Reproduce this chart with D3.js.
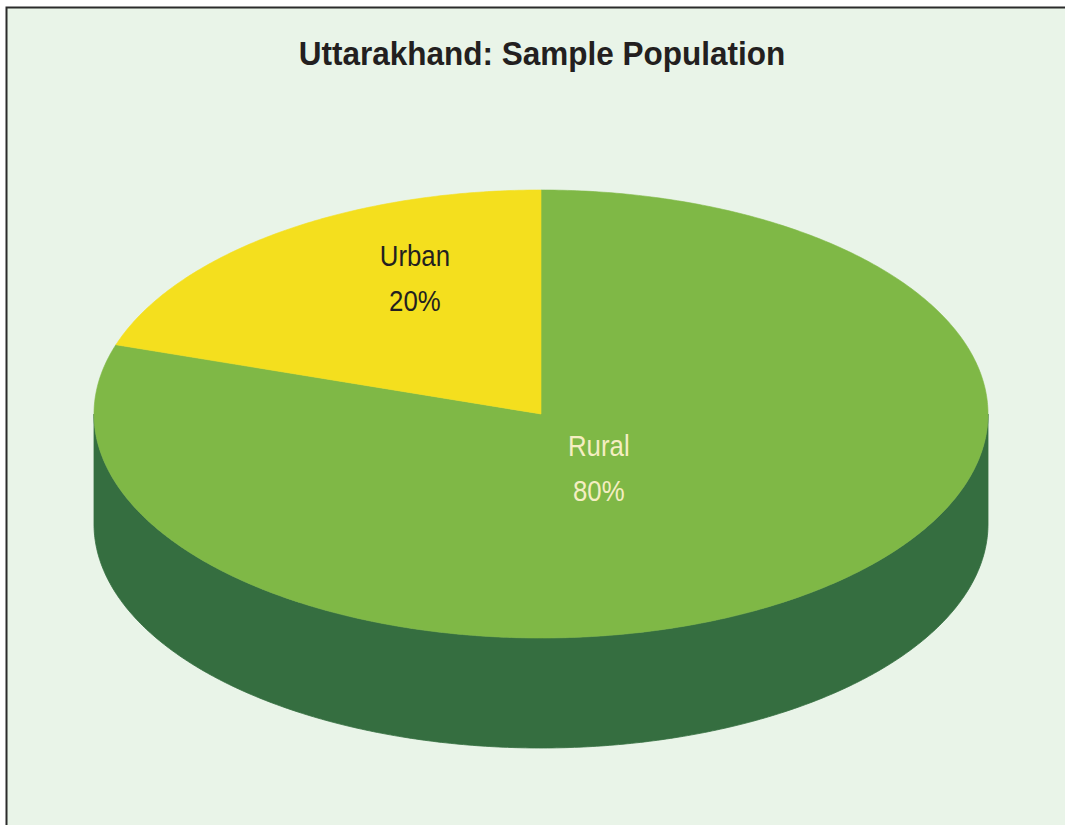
<!DOCTYPE html>
<html>
<head>
<meta charset="utf-8">
<script src="https://cdn.jsdelivr.net/npm/d3@7"></script>
<style>
  html, body { margin: 0; padding: 0; background: #fff; }
  svg { display: block; }
</style>
</head>
<body>
<svg id="chart" width="1065" height="825"></svg>
<script>
// data
const title = "Uttarakhand: Sample Population"
const categories = ["Rural", "Urban"]
const values = [80, 20]
const sliceColors = ["#7fb846", "#f4df1e"]
const sideColors = ["#356e40", "#a59617"]
const labelColors = ["#f5eec2", "#231f20"]
// where the label sits inside its slice, as fractions of the radii
const labelFracX = [0.22, 0.48]
const labelFracY = [0.30, 0.75]

const W = 1065, H = 825
const cx = 541, cy = 414, rx = 447, ry = 224, depth = 110
const FONT = "'Liberation Sans', Arial, sans-serif"

const svg = d3.select("#chart")

// frame
svg.append("rect")
  .attr("x", 6.5).attr("y", 7.5)
  .attr("width", W + 20).attr("height", H + 20)
  .attr("fill", "#e9f4e8")
  .attr("stroke", "#2b2b2b")
  .attr("stroke-width", 2)

// the original type is a condensed face, so squeeze horizontally
svg.append("g")
  .attr("transform", "translate(542,65) scale(0.955,1)")
  .append("text")
  .attr("text-anchor", "middle")
  .attr("font-family", FONT)
  .attr("font-weight", "bold")
  .attr("font-size", 33)
  .attr("fill", "#231f20")
  .text(title)

const pie = d3.pie().sort(null).startAngle(0).endAngle(2 * Math.PI)
const arcs = pie(values)

// angle measured clockwise from 12 o'clock
const px = (a) => cx + rx * Math.sin(a)
const py = (a, dy = 0) => cy - ry * Math.cos(a) + dy

function edgePoints(a0, a1, dy) {
  const n = Math.max(2, Math.ceil(Math.abs(a1 - a0) / 0.01))
  return d3.range(n + 1).map((i) => {
    const a = a0 + ((a1 - a0) * i) / n
    return [px(a), py(a, dy)]
  })
}

const line = d3.line()

// side walls: only the front half (90deg..270deg) shows
const sides = svg.append("g").classed("sides", true)
arcs.forEach((d, i) => {
  const a0 = Math.max(d.startAngle, Math.PI / 2)
  const a1 = Math.min(d.endAngle, (3 * Math.PI) / 2)
  if (a1 <= a0) return
  const top = edgePoints(a0, a1, 0)
  const bottom = edgePoints(a1, a0, depth)
  sides.append("path")
    .attr("d", line(top.concat(bottom)) + "Z")
    .attr("fill", sideColors[i])
    .attr("stroke", sideColors[i])
    .attr("stroke-width", 0.8)
})

// top faces
const tops = svg.append("g").classed("tops", true)
arcs.forEach((d, i) => {
  const pts = [[cx, cy]].concat(edgePoints(d.startAngle, d.endAngle, 0))
  tops.append("path")
    .attr("d", line(pts) + "Z")
    .attr("fill", sliceColors[i])
    .attr("stroke", sliceColors[i])
    .attr("stroke-width", 0.6)
})

// labels
const labels = svg.append("g").classed("labels", true)
arcs.forEach((d, i) => {
  const mid = (d.startAngle + d.endAngle) / 2
  const lx = cx + rx * Math.sin(mid) * labelFracX[i]
  const ly = cy - ry * Math.cos(mid) * labelFracY[i]
  const pct = Math.round((d.value / d3.sum(values)) * 100) + "%"
  const t = labels.append("g")
    .attr("transform", `translate(${lx},${ly}) scale(0.86,1)`)
    .append("text")
    .attr("text-anchor", "middle")
    .attr("font-family", FONT)
    .attr("font-size", 30)
    .attr("fill", labelColors[i])
  t.append("tspan").attr("x", 0).attr("y", -12).text(categories[i])
  t.append("tspan").attr("x", 0).attr("y", 33).text(pct)
})
</script>
</body>
</html>
